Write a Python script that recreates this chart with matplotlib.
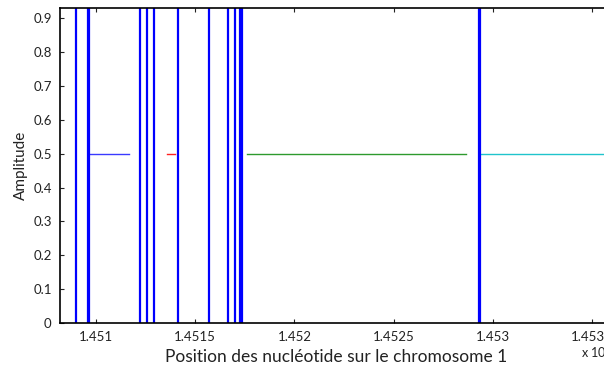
import matplotlib.pyplot as plt
import numpy as np

plt.rcParams['font.family'] = ['Lato', 'DejaVu Sans']

# positions of the breakpoints (bp on chromosome 1)
breaks = [145089920, 145095900, 145096700, 145122180, 145125700, 145129230,
          145141330, 145156950, 145166530, 145170060, 145172400, 145173600,
          145292900, 145293700]

# segments at amplitude 0.5 : (start, end)
seg_blue = [145096980, 145116630]
seg_red = [145135800, 145139800]
seg_green = [145176100, 145286480]
seg_cyan = [145293550, 145370000]
seg_level = 0.5

xticks = [145100000, 145150000, 145200000, 145250000, 145300000, 145350000]
xticklabels = ['1.451', '1.4515', '1.452', '1.4525', '1.453', '1.4535']
yticks = [0, 0.1, 0.2, 0.3, 0.4, 0.5, 0.6, 0.7, 0.8, 0.9]
yticklabels = ['0', '0.1', '0.2', '0.3', '0.4', '0.5', '0.6', '0.7', '0.8', '0.9']

fig = plt.figure(figsize=(6.04, 3.68), dpi=100)
ax = fig.add_axes([60/604, 45/368, 552/604, 315/368])

ax.plot(seg_blue, [seg_level]*2, color='#3a3aff', lw=1)
ax.plot(seg_red, [seg_level]*2, color='#ff2020', lw=1)
ax.plot(seg_green, [seg_level]*2, color='#2e9a2e', lw=1)
ax.plot(seg_cyan, [seg_level]*2, color='#20c4cc', lw=1)
for b in breaks:
    ax.axvline(b, color='#0000ff', lw=1.6)

ax.set_xlim(145081856, 145360064)
ax.set_ylim(0, 0.93)
ax.set_xticks(xticks)
ax.set_xticklabels(xticklabels)
ax.set_yticks(yticks)
ax.set_yticklabels(yticklabels)
ax.tick_params(direction='in', top=True, right=True, labelsize=9.5, length=3,
               width=0.8, pad=6, colors='#222222')
for s in ax.spines.values():
    s.set_linewidth(1.2)
ax.set_xlabel('Position des nucléotide sur le chromosome 1', fontsize=12.5,
              color='#222222', labelpad=4)
ax.set_ylabel('Amplitude', fontsize=11, color='#222222', labelpad=4)
ax.text(1.0, -0.095, 'x 10$^{8}$', transform=ax.transAxes, ha='right', va='center',
        fontsize=9, color='#222222')

fig.savefig('out.png', dpi=100)
